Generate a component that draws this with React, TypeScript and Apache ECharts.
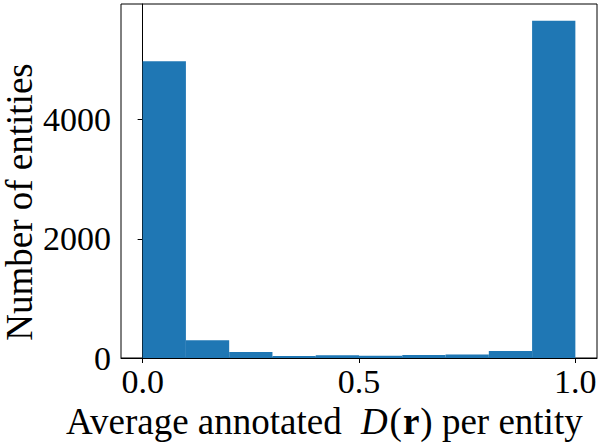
import React, { useEffect, useRef } from "react";
import * as echarts from "echarts";

const binStarts = [0.0, 0.1, 0.2, 0.3, 0.4, 0.5, 0.6, 0.7, 0.8, 0.9];
const binEnds = [0.1, 0.2, 0.3, 0.4, 0.5, 0.6, 0.7, 0.8, 0.9, 1.0];
const counts = [4980, 300, 100, 35, 48, 38, 50, 58, 118, 5660];
const xTicks = [0.0, 0.5, 1.0];
const yTicks = [0, 2000, 4000];

const FONT = "'Liberation Serif', 'Times New Roman', serif";

export default function App() {
  const ref = useRef<HTMLDivElement>(null);
  useEffect(() => {
    if (!ref.current) return;
    document.body.style.margin = "0";
    const chart = echarts.init(ref.current, null, { renderer: "svg" });
    const data = binStarts.map((s, i) => [s, binEnds[i], counts[i]]);
    const ymax = Math.max(...counts) * 1.05;
    chart.setOption({
      animation: false,
      grid: {
        left: 121,
        right: 3,
        top: 4,
        bottom: 87,
        show: true,
        borderColor: "#000",
        borderWidth: 1,
        backgroundColor: "transparent",
      },
      xAxis: {
        type: "value",
        min: -0.05,
        max: 1.05,
        splitLine: { show: false },
        axisLine: { show: true, onZero: false, lineStyle: { color: "#000", width: 1 } },
        axisTick: { show: true, length: 5, customValues: xTicks, lineStyle: { color: "#000", width: 1 } },
        axisLabel: {
          customValues: xTicks,
          formatter: (v: number) => v.toFixed(1),
          fontFamily: FONT,
          fontSize: 34,
          color: "#000",
          margin: 6,
        },
      },
      yAxis: {
        type: "value",
        min: 0,
        max: ymax,
        splitLine: { show: false },
        axisLine: { show: true, lineStyle: { color: "#000", width: 1 } },
        axisTick: { show: true, length: 5, customValues: yTicks, lineStyle: { color: "#000", width: 1 } },
        axisLabel: {
          customValues: yTicks,
          formatter: (v: number) => String(Math.round(v)),
          fontFamily: FONT,
          fontSize: 34,
          color: "#000",
          margin: 10,
        },
      },
      series: [
        {
          type: "custom",
          data,
          encode: { x: [0, 1], y: 2 },
          renderItem: (params: any, api: any) => {
            const p0 = api.coord([api.value(0), api.value(2)]);
            const p1 = api.coord([api.value(1), 0]);
            return {
              type: "rect",
              shape: { x: p0[0], y: p0[1], width: p1[0] - p0[0], height: p1[1] - p0[1] },
              style: { fill: "#1f77b4" },
            };
          },
        },
      ],
      graphic: [
        {
          type: "text",
          x: 19,
          y: 202,
          rotation: Math.PI / 2,
          style: {
            text: "Number of entities",
            fontFamily: FONT,
            fontSize: 37,
            fill: "#000",
            align: "center",
            verticalAlign: "middle",
          },
        },
        {
          type: "text",
          x: 66,
          y: 421,
          style: {
            text: "{n|Average annotated }{i|D}{n|(}{b|r}{n|)}{n| per entity}",
            align: "left",
            verticalAlign: "middle",
            fontFamily: FONT,
            fontSize: 37,
            fill: "#000",
            rich: {
              n: { fontFamily: FONT, fontSize: 37, fill: "#000" },
              i: { fontFamily: FONT, fontSize: 37, fontStyle: "italic", fill: "#000", padding: [0, 2, 0, 10] },
              b: { fontFamily: FONT, fontSize: 37, fontWeight: "bold", fill: "#000", padding: [0, 1, 0, 1] },
            },
          },
        },
      ],
    });
    return () => chart.dispose();
  }, []);
  return <div ref={ref} style={{ width: 600, height: 445 }} />;
}
